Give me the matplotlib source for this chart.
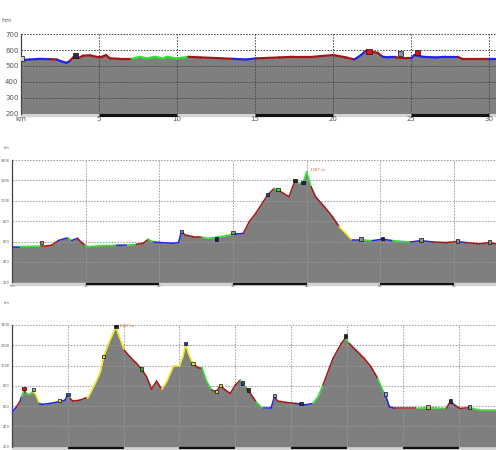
import matplotlib
matplotlib.use("Agg")
import matplotlib.pyplot as plt
from matplotlib.patches import Rectangle

# ---------------- data ----------------
# Panel 1
km1 = [0, 0.6, 1.24, 1.88, 2.3, 2.63, 2.95, 3.16, 3.37, 3.7, 4.0, 4.44, 4.87, 5.19, 5.47, 5.72,
       6.36, 7.1, 7.64, 8.07, 8.6, 9.14, 9.35, 10.0, 10.74, 11.5, 12.55, 13.6, 14.43, 15.07,
       16.56, 17.42, 18.7, 20.02, 20.83, 21.36, 21.79, 22.1, 22.5, 22.86, 23.18, 23.6, 24.0,
       24.67, 24.99, 25.2, 25.74, 26.59, 27.2, 27.98, 28.3, 29.37, 30.0, 30.43]
el1 = [537, 541, 545, 543, 541, 529, 520, 533, 554, 550, 565, 567, 558, 558, 569, 548,
       545, 545, 558, 548, 558, 548, 558, 548, 558, 554, 550, 545, 541, 548,
       554, 558, 558, 569, 554, 541, 569, 596, 590, 583, 558, 554, 554,
       548, 548, 569, 558, 554, 558, 558, 543, 543, 543, 543]
col1 = "bbbrbbbrrrrrrrrrrgggggggrrrbbrrrrrrbbrrrbbrrbbbbbrrrb"
mk1_km = [0.05, 3.5, 22.3, 24.3, 25.4]
mk1_el = [548, 565, 592, 578, 585]
mk1_c = ["#d0d0d0", "#303030", "#e01010", "#909090", "#e01010"]

# Panel 2
km2 = [0, 1.1, 4.0, 4.7, 5.4, 6.3, 7.2, 7.6, 8.1, 8.9, 9.3, 9.9, 10.4, 11.9, 14.2, 15.6, 16.9,
       17.8, 18.5, 19.2, 20.1, 21.9, 22.6, 23.0, 23.5, 24.6, 25.7, 26.4, 27.8, 29.6, 30.0, 30.5,
       31.4, 32.2, 33.1, 34.7, 35.6, 36.1, 36.7, 37.6, 38.1, 38.4, 39.0, 39.5, 40.0, 40.6, 41.2,
       42.4, 43.5, 44.4, 45.3, 46.1, 47.4, 48.9, 50.3, 51.7, 54.1, 55.5, 57.1, 58.9, 60.5, 61.6,
       63.4, 64.8, 65.7]
el2 = [550, 550, 556, 556, 565, 610, 630, 635, 610, 632, 600, 565, 550, 560, 563, 566, 573,
       583, 622, 596, 590, 583, 590, 697, 665, 648, 648, 632, 642, 665, 680, 674,
       680, 795, 878, 1057, 1122, 1106, 1080, 1040, 1138, 1187, 1171, 1177, 1285, 1138, 1040,
       942, 844, 746, 681, 616, 616, 609, 622, 609, 596, 609, 596, 590, 600, 590,
       577, 590, 577]
col2 = "bgrrrbbgbrrgggbgrrgbbbbrrrggggbbrrrrgrrrrgggg" + "rrrryybgbbgbbrrbrrr"
mk2_km = [4.0, 23.0, 27.8, 30.0, 34.7, 36.1, 38.4, 39.5, 47.4, 50.3, 55.5, 60.5, 64.8]
mk2_el = [590, 700, 625, 690, 1060, 1110, 1200, 1180, 625, 630, 615, 605, 597]
mk2_c = ["#909090", "#6080ff", "#102080", "#909090", "#2040c0", "#40d040", "#202020",
         "#102080", "#909090", "#102080", "#909090", "#909090", "#909090"]

# Panel 3
km3 = [0, 0.8, 1.4, 1.7, 2.15, 2.5, 3.1, 3.8, 4.3, 4.9, 5.3, 6.8, 8.5, 9.5, 10.0, 10.4, 10.9,
       12.2, 13.1, 13.5, 14.0, 14.9, 15.8, 16.4, 17.3, 18.2, 18.6, 19.0, 20.1, 21.1, 22.3, 23.2,
       24.1, 25.0, 25.9, 26.8, 27.7, 28.9, 30.0, 30.6, 31.1, 31.6, 32.4, 33.4, 34.0, 34.9, 35.8,
       36.6, 37.3, 38.2, 39.1, 40.0, 40.9, 41.3, 42.0, 42.5, 43.7, 44.9, 46.4, 47.0, 47.6, 49.1,
       50.9, 52.4, 53.9, 54.8, 55.7, 57.5, 59.0, 59.7, 60.4, 61.6, 63.1, 64.3, 65.5, 66.4, 67.0,
       67.6, 68.5, 72.4, 74.5, 77.8, 78.5, 79.3, 80.2, 82.0, 83.7, 86.7]
el3 = [539, 594, 644, 693, 759, 726, 716, 742, 710, 627, 617, 627, 644, 660, 710, 677, 650,
       660, 677, 677, 726, 825, 933, 1088, 1219, 1334, 1380, 1318, 1153, 1088, 1022, 966,
       890, 769, 848, 766, 841, 996, 996, 1088, 1209, 1120, 1015, 979, 979, 841, 759,
       742, 802, 759, 726, 808, 857, 825, 775, 742, 644, 578, 578, 693, 650, 637,
       627, 611, 627, 693, 808, 1071, 1219, 1270, 1219, 1153, 1071, 989, 874, 759, 693,
       594, 578, 578, 585, 578, 644, 611, 578, 585, 562, 562]
col3 = ("brbgrggyy" "bbbbb" "g" "rrrr" "yyyyyyyyy" "rrrrrrr" "yyyyyyy" "rr" "gg" "rrrrrr"
        "gg" "rr" "g" "bb" "rrr" "bb" "gg" "rrr" "g" "rrrr" "gg" "bb" "r" "gg" "r" "b" "rr" "gg")
mk3_km = [2.15, 3.8, 8.5, 10.0, 16.4, 18.6, 23.2, 31.1, 32.4, 36.6, 37.3, 41.3, 42.4, 47.0,
          51.8, 59.7, 66.9, 74.5, 78.5, 82.0]
mk3_el = [775, 765, 655, 715, 1090, 1392, 965, 1215, 1020, 745, 805, 830, 760, 705,
          627, 1292, 720, 590, 650, 592]
mk3_c = ["#e01010", "#a0a0a0", "#e8e020", "#3050e0", "#e8e020", "#202020", "#40a030",
         "#2040d0", "#e8e020", "#e8e020", "#e8e020", "#2040d0", "#303030", "#80a0ff",
         "#203080", "#202020", "#80a0ff", "#c0c040", "#303030", "#909090"]

# ---------------- styling ----------------
COLORS = {"b": "#2222e8", "g": "#33e033", "r": "#a41515", "y": "#ecea22"}
FILL = "#7f7f7f"

W, H = 496, 450
fig = plt.figure(figsize=(W / 100, H / 100), dpi=100)


def add_ax(left, top, right, bottom):
    return fig.add_axes([left / W, 1 - bottom / H, (right - left) / W, (bottom - top) / H])


def draw_panel(ax, km, el, cols, mk_km, mk_el, mk_c, xmax, ylo, yhi, ystep, xstep,
               lw, fs, gridc, strip_h, bar_lw, msize, show_x=True):
    ax.set_xlim(0, xmax)
    ax.set_ylim(ylo, yhi)
    ax.fill_between(km, el, ylo, color=FILL, lw=0, zorder=1)
    for i in range(len(km) - 1):
        c = COLORS[cols[i]] if i < len(cols) else COLORS["r"]
        ax.plot(km[i:i + 2], el[i:i + 2], color=c, lw=lw, solid_capstyle="round", zorder=3)
    ax.scatter(mk_km, mk_el, s=msize, c=mk_c, marker="s", edgecolors="#111111",
               linewidths=0.5, zorder=5)
    # grid
    yt = list(range(ylo, yhi + 1, ystep))
    xt = [x for x in range(0, int(xmax) + 1, xstep)]
    for y in yt:
        ax.axhline(y, color=gridc, lw=0.7, ls=(0, (1.5, 1.5)), zorder=2)
    for x in xt[1:]:
        ax.axvline(x, color=gridc, lw=0.7, ls=(0, (1.5, 1.5)), zorder=2)
    for s in ["top", "right", "bottom"]:
        ax.spines[s].set_visible(False)
    ax.spines["left"].set_color("#444444")
    ax.spines["left"].set_linewidth(0.9)
    ax.set_yticks(yt)
    ax.set_yticklabels([str(v) for v in yt], fontsize=fs, color="#555555")
    ax.set_xticks(xt)
    if show_x:
        ax.set_xticklabels(["km"] + [str(v) for v in xt[1:]], fontsize=fs, color="#555555")
    else:
        ax.set_xticklabels([])
    ax.tick_params(length=0, pad=1.5)
    # bottom strip and alternating black bars
    ax.add_patch(Rectangle((0, -strip_h), 1, strip_h, transform=ax.transAxes,
                           color="#d4d4d4", clip_on=False, zorder=0))
    tr = ax.get_xaxis_transform()
    for a in xt[1::2]:
        ax.plot([a, min(a + xstep, xmax)], [-strip_h / 2, -strip_h / 2], color="#111111",
                lw=bar_lw, transform=tr, clip_on=False, solid_capstyle="butt", zorder=4)
    ax.set_facecolor("white")


ax1 = add_ax(20.6, 34.3, 496, 113.5)
draw_panel(ax1, km1, el1, col1, mk1_km, mk1_el, mk1_c, 30.43, 200, 700, 100, 5,
           1.6, 5, "#444444", 0.034, 2.2, 14)
ax1.text(-0.02, 1.18, "hm", transform=ax1.transAxes, fontsize=4.5, color="#555555",
         ha="right", va="center")

ax2 = add_ax(12, 160, 496, 282.3)
draw_panel(ax2, km2, el2, col2, mk2_km, mk2_el, mk2_c, 65.7, 200, 1400, 200, 10,
           1.1, 2.5, "#999999", 0.02, 1.6, 6)
ax2.text(-0.005, 1.1, "hm", transform=ax2.transAxes, fontsize=2.5, color="#555555",
         ha="right", va="center")
ax2.text(40.5, 1300, "1287 m", fontsize=2.8, color="#d06030", ha="left", va="center")

ax3 = add_ax(12, 325, 496, 446.7)
draw_panel(ax3, km3, el3, col3, mk3_km, mk3_el, mk3_c, 86.7, 200, 1400, 200, 10,
           1.1, 2.5, "#999999", 0.02, 1.6, 6, show_x=False)
ax3.text(-0.005, 1.18, "hm", transform=ax3.transAxes, fontsize=2.5, color="#555555",
         ha="right", va="center")
ax3.text(19.2, 1395, "1387 m", fontsize=2.8, color="#d06030", ha="left", va="center")

fig.savefig("out.png", dpi=100, facecolor="white")
